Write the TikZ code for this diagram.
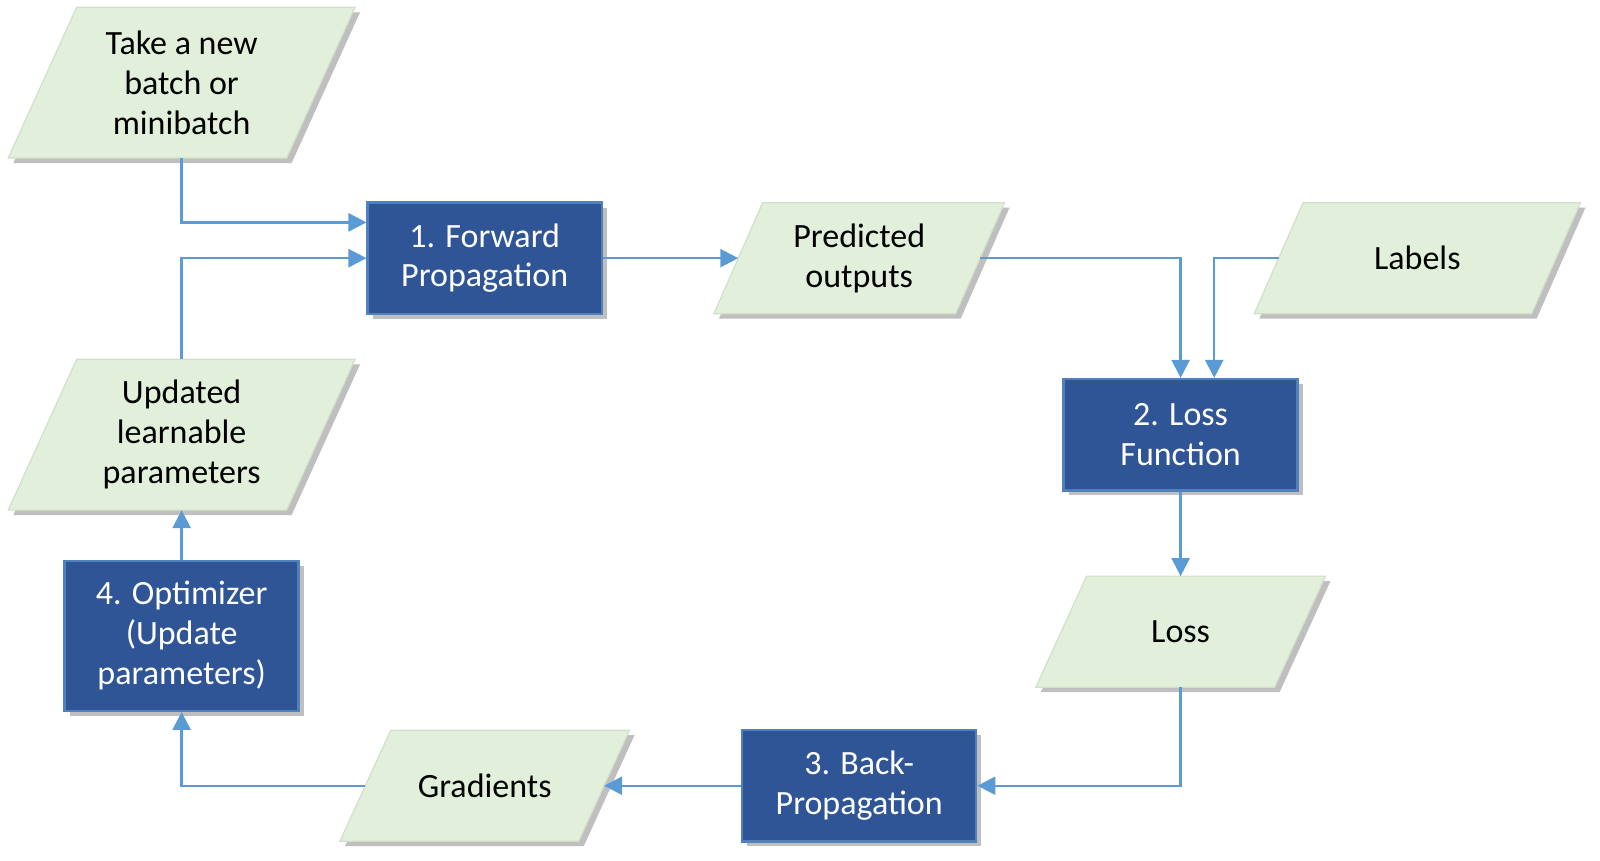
\documentclass[tikz,border=0pt]{standalone}
\usepackage{fontspec}
\setmainfont{Carlito}
\usetikzlibrary{arrows.meta,shadows}
\definecolor{stepblue}{HTML}{2F5597}
\definecolor{stepedge}{HTML}{4F81BD}
\definecolor{datagreen}{HTML}{E2EFDA}
\definecolor{dataedge}{HTML}{D2DFC9}
\definecolor{linkblue}{HTML}{5B9BD5}
\pgfdeclarelayer{background}
\pgfsetlayers{background,main}
\tikzstyle{processBox} = [
 rectangle,
 draw=stepedge,
 line width=1.2pt,
 fill=stepblue,
 text=white,
 align = center,
 minimum width=117pt,
 minimum height=55.6pt,
 font=\fontsize{17}{19.9}\selectfont,
 drop shadow={shadow xshift=2.5pt, shadow yshift=-2.5pt, fill=black, opacity=0.25}
]
\tikzstyle{dataNode} = [
 rectangle,
 align = center,
 inner sep=0pt,
 minimum width=120pt,
 minimum height=55.1pt,
 font=\fontsize{17}{19.9}\selectfont
]
\tikzstyle{dataShape} = [
 draw=dataedge,
 line width=0.6pt,
 fill=datagreen,
 drop shadow={shadow xshift=2.5pt, shadow yshift=-2.5pt, fill=black, opacity=0.25}
]
\tikzstyle{flowArrow} = [
 draw=linkblue,
 line width=1.2pt,
 -{Triangle[width=9pt,length=9pt]}
]

\begin{document}
\begin{tikzpicture}[x=0.5102pt, y=-0.5102pt]
  \useasboundingbox (0,0) rectangle (1568,843);
  % data
  \node [dataNode, minimum width=138.8pt, minimum height=75pt] (batch) at (178,81) {Take a new \\ batch or \\ minibatch};
  \node [dataNode, minimum width=120.5pt] (pred) at (842,253) {Predicted \\ outputs};
  \node [dataNode, minimum width=138.3pt] (labels) at (1389,253) {Labels};
  \node [dataNode, minimum width=119pt] (loss) at (1157,619) {Loss};
  \node [dataNode, minimum width=119pt] (grad) at (475,770) {Gradients};
  \node [dataNode, minimum width=138.8pt, minimum height=75pt] (upd) at (178,426) {Updated \\ learnable \\ parameters};
  \begin{pgfonlayer}{background}
    \foreach \n/\s in {batch/17.1pt, pred/12.2pt, labels/12.2pt, loss/12.7pt, grad/12.7pt, upd/17.1pt}
      \path [dataShape] ([xshift=-\s]\n.south west) -- ([xshift=-\s]\n.south east)
        -- ([xshift=\s]\n.north east) -- ([xshift=\s]\n.north west) -- cycle;
  \end{pgfonlayer}
  % steps
  \node [processBox] (fwd) at (475,253) {1. Forward \\ Propagation};
  \node [processBox] (lossFn) at (1157,426) {2. Loss \\ Function};
  \node [processBox] (backProp) at (842,770) {3. Back- \\ Propagation};
  \node [processBox, minimum height=75pt] (optim) at (178,623) {4. Optimizer \\ (Update \\ parameters)};
  % links
  \draw [flowArrow] (batch.south) |- ([yshift=17.9pt]fwd.west);
  \draw [flowArrow] (upd.north) |- (fwd.west);
  \draw [flowArrow] (fwd.east) -- (pred.west);
  \draw [flowArrow] (pred.east) -| (lossFn.north);
  \draw [flowArrow] (labels.west) -| ([xshift=16.8pt]lossFn.north);
  \draw [flowArrow] (lossFn.south) -- (loss.north);
  \draw [flowArrow] (loss.south) |- (backProp.east);
  \draw [flowArrow] (backProp.west) -- (grad.east);
  \draw [flowArrow] (grad.west) -| (optim.south);
  \draw [flowArrow] (optim.north) -- (upd.south);
\end{tikzpicture}
\end{document}
